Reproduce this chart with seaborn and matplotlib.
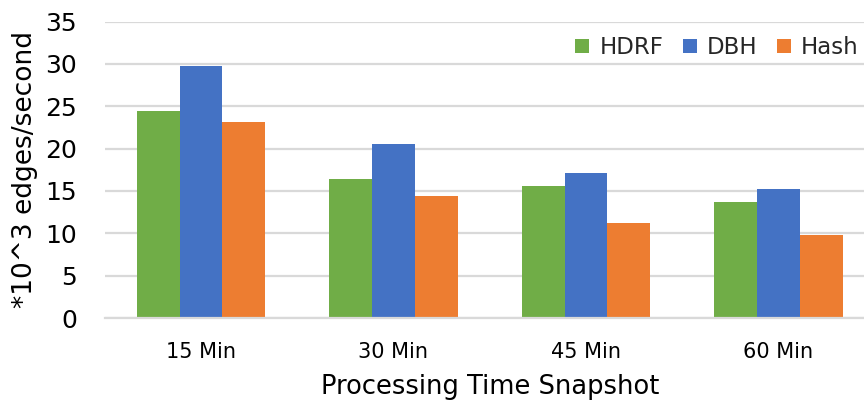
import matplotlib
matplotlib.use("Agg")
import matplotlib.pyplot as plt
import seaborn as sns
import pandas as pd

# Throughput per partitioning strategy at each processing-time snapshot
snapshots = ["15 Min", "30 Min", "45 Min", "60 Min"]
hdrf = [24.4, 16.4, 15.6, 13.7]
dbh = [29.7, 20.5, 17.1, 15.2]
hash_ = [23.1, 14.4, 11.2, 9.8]
strategies = ["HDRF", "DBH", "Hash"]
colors = ["#70AD47", "#4472C4", "#ED7D31"]
y_ticks = [0, 5, 10, 15, 20, 25, 30, 35]

df = pd.DataFrame({
    "snapshot": snapshots * 3,
    "strategy": ["HDRF"] * 4 + ["DBH"] * 4 + ["Hash"] * 4,
    "value": hdrf + dbh + hash_,
})

sns.set_theme(style="white")
plt.rcParams["font.family"] = ["DejaVu Sans"]

W, H = 864, 405
fig = plt.figure(figsize=(W / 100, H / 100), dpi=100)
left, right, top, bottom = 104.7, 874.7, 21.5, 318.0
ax = fig.add_axes([left / W, 1 - bottom / H, (right - left) / W, (bottom - top) / H])

sns.barplot(data=df, x="snapshot", y="value", hue="strategy",
            order=snapshots, hue_order=strategies, palette=colors,
            width=0.668, gap=0, linewidth=0, saturation=1, ax=ax)

ax.set_xlim(-0.5, 3.5)
ax.set_ylim(0, 35)
ax.set_yticks(y_ticks)
ax.yaxis.grid(True, color="#d9d9d9", linewidth=1.6)
ax.set_axisbelow(True)
for s in ["top", "right", "left"]:
    ax.spines[s].set_visible(False)
ax.spines["bottom"].set_color("#d9d9d9")
ax.spines["bottom"].set_linewidth(1.6)
ax.tick_params(axis="y", length=0, labelsize=18, pad=20, colors="black")
ax.tick_params(axis="x", length=0, labelsize=15, pad=17, colors="black")

ax.set_xlabel("Processing Time Snapshot", fontsize=18.5, labelpad=9, color="black")
ax.set_ylabel("*10^3 edges/second", fontsize=19, labelpad=5, color="black")

handles, labels = ax.get_legend_handles_labels()
ax.legend(handles, labels, ncol=3, frameon=False, fontsize=16.5,
          loc="upper right", bbox_to_anchor=(868 / W, 1 - 27 / H),
          bbox_transform=fig.transFigure,
          handlelength=0.6, handleheight=0.6, handletextpad=0.45,
          columnspacing=0.85, borderaxespad=0)

fig.savefig("out.png", dpi=100)
